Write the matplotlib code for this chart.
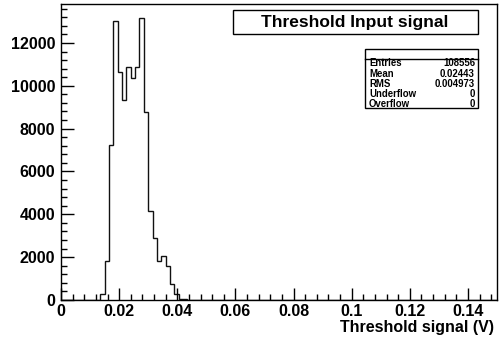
import numpy as np
import matplotlib
matplotlib.use("Agg")
import matplotlib.pyplot as plt
from matplotlib.ticker import MultipleLocator, FuncFormatter

plt.rcParams['font.family'] = ['Liberation Sans', 'DejaVu Sans']
plt.rcParams['font.weight'] = 'bold'

# histogram: 100 bins of 0.0015 V from 0 to 0.15
n_bins = 100
x_min, x_max = 0.0, 0.15
first_bin = 9
counts = [280, 1820, 7240, 13040, 10640, 9330, 10900, 10380, 10900, 13160,
          8780, 4140, 2910, 1820, 2060, 1590, 740, 280, 60, 30, 20, 15, 10]

title = "Threshold Input signal"
x_label = "Threshold signal (V)"
stat_names = ["Entries", "Mean", "RMS", "Underflow", "Overflow"]
stat_values = ["108556", "0.02443", "0.004973", "0", "0"]

edges = np.linspace(x_min, x_max, n_bins + 1)
h = np.zeros(n_bins)
h[first_bin:first_bin + len(counts)] = counts

W, H = 499, 339
fig = plt.figure(figsize=(W / 100, H / 100), dpi=100)
ax = fig.add_axes([61 / W, (H - 300) / H, (497 - 61) / W, (300 - 4) / H])

ax.stairs(h, edges, color='#111111', lw=1.0, baseline=0)
ax.set_xlim(x_min, x_max)
ax.set_ylim(0, max(counts) * 1.05)

ax.xaxis.set_major_locator(MultipleLocator(0.02))
ax.xaxis.set_minor_locator(MultipleLocator(0.004))
ax.yaxis.set_major_locator(MultipleLocator(2000))
ax.yaxis.set_minor_locator(MultipleLocator(400))
ax.xaxis.set_major_formatter(FuncFormatter(lambda v, p: '%g' % round(v, 4)))
ax.yaxis.set_major_formatter(FuncFormatter(lambda v, p: '%d' % v))
ax.tick_params(which='both', direction='in', top=False, right=False,
               labelsize=11.5, width=1)
ax.tick_params(which='major', length=9)
ax.tick_params(which='minor', length=4.5)
ax.tick_params(axis='x', pad=3)
ax.tick_params(axis='y', pad=4)
for s in ax.spines.values():
    s.set_linewidth(1)

ax.set_xlabel(x_label, fontsize=11.5, fontweight='bold', ha='right')
ax.xaxis.set_label_coords(0.993, -0.069)

# title box
tb = plt.Rectangle((233 / W, 1 - 34 / H), (478 - 233) / W, 24 / H,
                   transform=fig.transFigure, fc='white', ec='black', lw=1, zorder=1)
fig.patches.append(tb)
fig.text(355 / W, 1 - 22 / H, title, ha='center', va='center', fontsize=12.5,
         fontweight='bold', zorder=2)

# stats box
sb = plt.Rectangle((365 / W, 1 - 108 / H), (478 - 365) / W, (108 - 49) / H,
                   transform=fig.transFigure, fc='white', ec='black', lw=1)
fig.patches.append(sb)
fig.add_artist(plt.Line2D([365 / W, 478 / W], [1 - 58.5 / H, 1 - 58.5 / H],
                          transform=fig.transFigure, color='black', lw=1))
for i, (n, v) in enumerate(zip(stat_names, stat_values)):
    y = 1 - (63.5 + i * 10.1) / H
    fig.text(369 / W, y, n, ha='left', va='center', fontsize=6.9, fontweight='bold')
    fig.text(475 / W, y, v, ha='right', va='center', fontsize=6.9, fontweight='bold')

fig.savefig("out.png", dpi=100)
